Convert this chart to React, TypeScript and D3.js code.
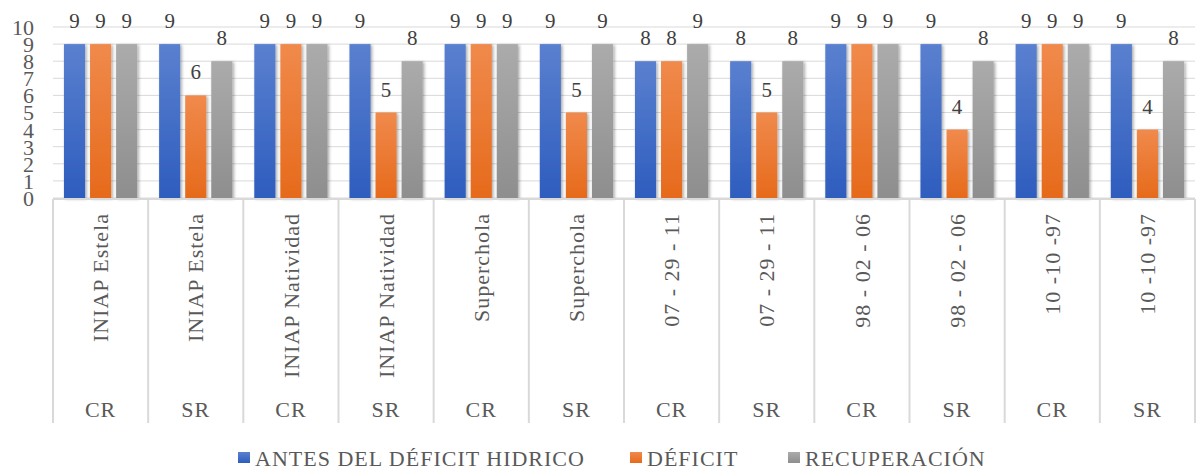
import * as d3 from 'd3'

const categories = [
  'INIAP Estela', 'INIAP Estela', 'INIAP Natividad', 'INIAP Natividad',
  'Superchola', 'Superchola', '07 - 29 - 11', '07 - 29 - 11',
  '98 - 02 - 06', '98 - 02 - 06', '10 -10 -97', '10 -10 -97'
]
const treatments = ['CR', 'SR', 'CR', 'SR', 'CR', 'SR', 'CR', 'SR', 'CR', 'SR', 'CR', 'SR']

const seriesNames = ['ANTES DEL DÉFICIT HIDRICO', 'DÉFICIT', 'RECUPERACIÓN']
const antes = [9, 9, 9, 9, 9, 9, 8, 8, 9, 9, 9, 9]
const deficit = [9, 6, 9, 5, 9, 5, 8, 5, 9, 4, 9, 4]
const recuperacion = [9, 8, 9, 8, 9, 9, 9, 8, 9, 8, 9, 8]
const yTicks = [0, 1, 2, 3, 4, 5, 6, 7, 8, 9, 10]

const series = [antes, deficit, recuperacion]
const gradients = [
  { id: 'gBlue', top: '#5a80cf', bottom: '#2e5dbe' },
  { id: 'gOrange', top: '#f08a4c', bottom: '#e66a1b' },
  { id: 'gGray', top: '#ababab', bottom: '#8e8e8e' }
]

const W = 1198
const H = 475
const left = 53
const right = 1195
const top = 27
const bottom = 198
const axisBottom = 423
const font = "'Liberation Serif', 'Tinos', 'DejaVu Serif', serif"
const textGray = '#595959'

export default function App() {
  const idx = categories.map((_, i) => i)
  const x = d3.scaleBand<number>().domain(idx).range([left, right]).padding(0)
  const xInner = d3.scaleBand<number>()
    .domain([0, 1, 2])
    .range([0, x.bandwidth()])
    .paddingInner(0.19)
    .paddingOuter(0.42)
  const y = d3.scaleLinear().domain([0, 10]).range([bottom, top])

  // legend items placed at measured-ish offsets (Times metrics)
  const legendX = [238, 630, 788]
  const markerW = 12

  return (
    <svg width={W} height={H} style={{ position: 'absolute', left: 0, top: 0, background: '#fff', fontFamily: font }}>
      <defs>
        {gradients.map(g => (
          <linearGradient key={g.id} id={g.id} x1="0" y1="0" x2="0" y2="1">
            <stop offset="0" stopColor={g.top} />
            <stop offset="1" stopColor={g.bottom} />
          </linearGradient>
        ))}
        <filter id="shadow" x="-30%" y="-10%" width="160%" height="120%">
          <feDropShadow dx="1.5" dy="1" stdDeviation="1.8" floodColor="#000" floodOpacity="0.35" />
        </filter>
      </defs>

      {/* gridlines */}
      {yTicks.map(t => (
        <line key={t} x1={left} x2={right} y1={y(t)} y2={y(t)} stroke="#d9d9d9" strokeWidth={1} />
      ))}

      {/* y tick labels */}
      {yTicks.map(t => (
        <text key={t} x={34} y={y(t)} dy="0.36em" textAnchor="end" fontSize={22} fill={textGray}>
          {t}
        </text>
      ))}

      {/* bars */}
      {series.map((vals, s) => (
        <g key={s} filter="url(#shadow)">
          {vals.map((v, i) => (
            <rect key={i}
              x={(x(i) ?? 0) + (xInner(s) ?? 0)}
              y={y(v)}
              width={xInner.bandwidth()}
              height={y(0) - y(v)}
              fill={`url(#${gradients[s].id})`} />
          ))}
        </g>
      ))}

      {/* data labels */}
      {series.map((vals, s) => (
        <g key={s}>
          {vals.map((v, i) => (
            <text key={i}
              x={(x(i) ?? 0) + (xInner(s) ?? 0) + xInner.bandwidth() / 2}
              y={y(v) - 16}
              textAnchor="middle" fontSize={21} fill="#404040">
              {v}
            </text>
          ))}
        </g>
      ))}

      {/* category axis */}
      <line x1={left} x2={right} y1={bottom + 1} y2={bottom + 1} stroke="#d9d9d9" strokeWidth={2} />
      {[...idx, categories.length].map(i => {
        const xx = i < categories.length ? (x(i) ?? 0) : right
        return <line key={i} x1={xx} x2={xx} y1={bottom + 1} y2={axisBottom} stroke="#d9d9d9" strokeWidth={2} />
      })}
      {categories.map((c, i) => {
        const cx = (x(i) ?? 0) + x.bandwidth() / 2
        return (
          <text key={i} transform={`translate(${cx},213) rotate(-90)`} dy="0.35em"
            textAnchor="end" fontSize={22} letterSpacing={1} fill={textGray}>
            {c}
          </text>
        )
      })}
      {treatments.map((t, i) => (
        <text key={i} x={(x(i) ?? 0) + x.bandwidth() / 2} y={417} textAnchor="middle"
          fontSize={22} letterSpacing={1} fill={textGray}>
          {t}
        </text>
      ))}

      {/* legend */}
      {seriesNames.map((n, s) => (
        <g key={n} transform={`translate(${legendX[s]},0)`}>
          <rect x={0} y={452} width={markerW} height={11} fill={`url(#${gradients[s].id})`} />
          <text x={markerW + 5} y={466} fontSize={22} letterSpacing={1} fill={textGray}>{n}</text>
        </g>
      ))}
    </svg>
  )
}
